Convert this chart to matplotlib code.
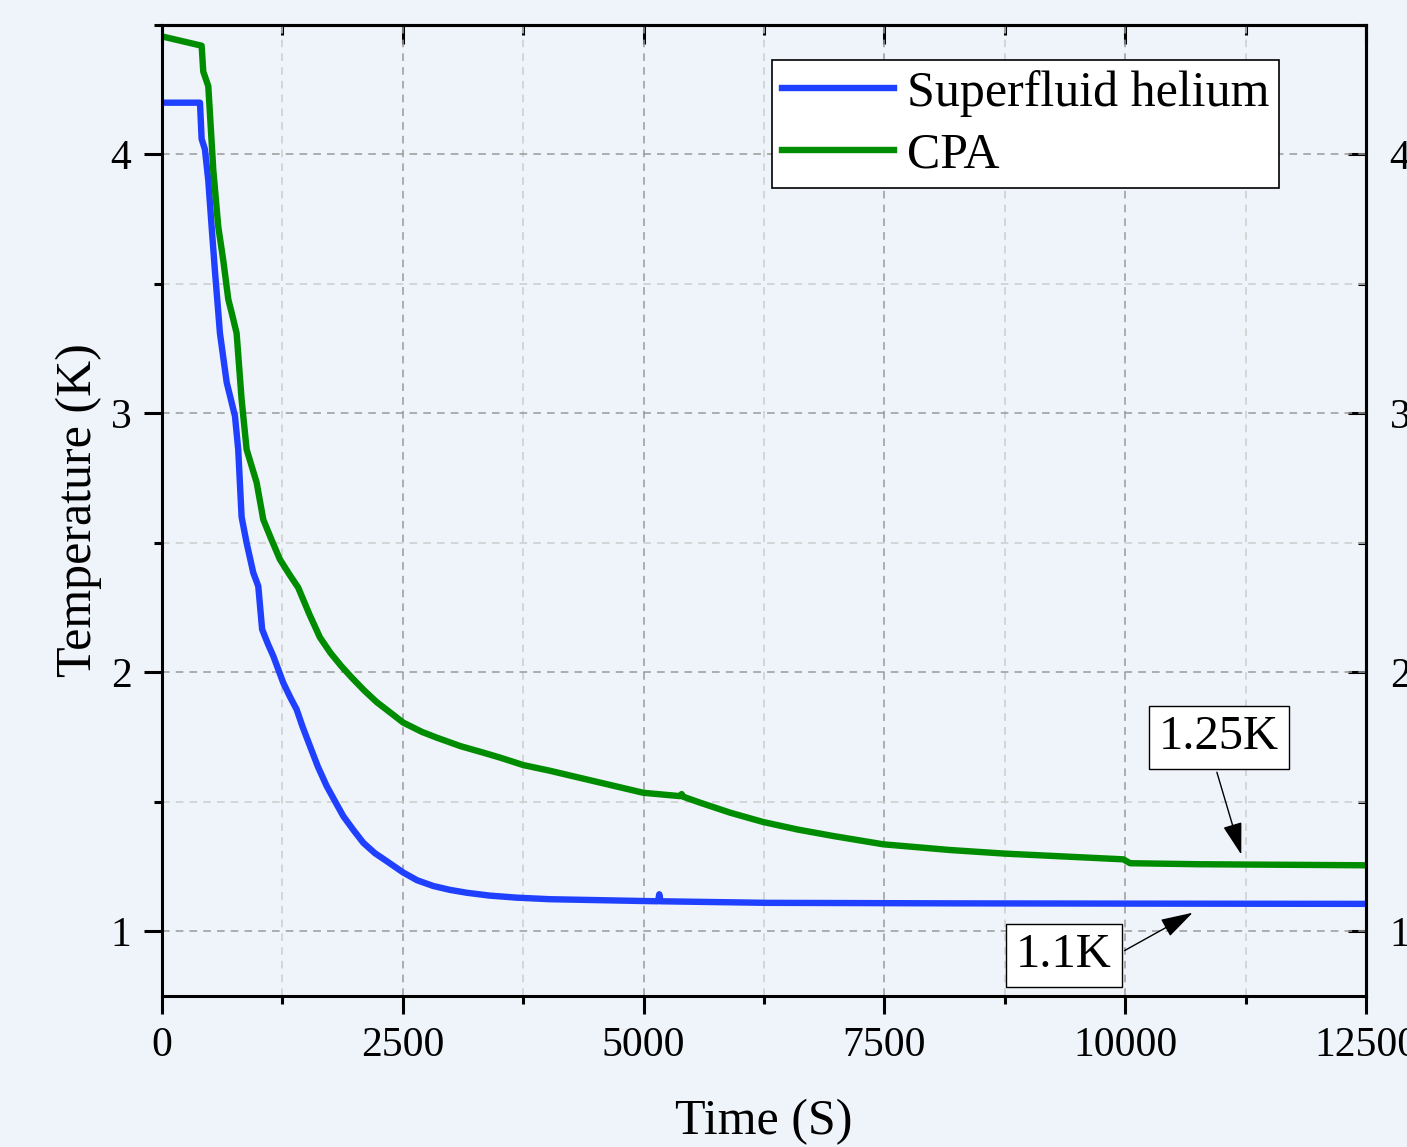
import matplotlib.pyplot as plt
from matplotlib.ticker import MultipleLocator

# time (s) and temperature (K)
helium_t = [0, 395, 412, 446, 481, 516, 550, 585, 602, 672, 758, 792, 827, 879,
            948, 1000, 1040, 1100, 1156, 1259, 1330, 1398, 1460, 1537, 1620,
            1710, 1800, 1882, 1990, 2090, 2210, 2333, 2505, 2650, 2817, 2990,
            3163, 3400, 3683, 4028, 4997, 5150, 5163, 5176, 6278, 8181,
            10000, 12500]
helium_T = [4.2, 4.2, 4.06, 4.02, 3.90, 3.72, 3.55, 3.39, 3.31, 3.12, 2.99,
            2.86, 2.60, 2.50, 2.385, 2.333, 2.166, 2.11, 2.063, 1.96, 1.905,
            1.857, 1.79, 1.715, 1.635, 1.561, 1.50, 1.445, 1.39, 1.342, 1.302,
            1.271, 1.227, 1.197, 1.175, 1.160, 1.149, 1.138, 1.130, 1.124,
            1.117, 1.116, 1.143, 1.116, 1.110, 1.108, 1.107, 1.106]

cpa_t = [0, 412, 429, 481, 498, 533, 585, 637, 689, 723, 775, 827, 879, 983,
         1052, 1140, 1225, 1320, 1415, 1530, 1640, 1750, 1860, 1970, 2100,
         2230, 2370, 2505, 2700, 2852, 3100, 3336, 3509, 3751, 4028, 4997,
         5380, 5395, 5410, 5585, 5900, 6243, 6600, 6970, 7488, 8181, 8752,
         9980, 10050, 10776, 12500]
cpa_T = [4.456, 4.42, 4.32, 4.264, 4.16, 3.94, 3.72, 3.59, 3.44, 3.39, 3.31,
         3.054, 2.861, 2.733, 2.59, 2.51, 2.436, 2.38, 2.327, 2.225, 2.135,
         2.075, 2.025, 1.98, 1.93, 1.885, 1.845, 1.806, 1.77, 1.748, 1.715,
         1.69, 1.671, 1.642, 1.62, 1.535, 1.522, 1.53, 1.52, 1.497, 1.458,
         1.422, 1.393, 1.368, 1.336, 1.314, 1.30, 1.278, 1.263, 1.259, 1.255]

plt.rcParams['font.family'] = ['Liberation Serif', 'DejaVu Serif']

bg = '#eff3fa'
fig = plt.figure(figsize=(14.07, 11.47), dpi=100, facecolor=bg)
ax = fig.add_axes([0.1151, 0.1316, 0.8558, 0.8466], facecolor=bg)

ax.plot(helium_t, helium_T, color='#2040ff', lw=4.6, label='Superfluid helium')
ax.plot(cpa_t, cpa_T, color='#008c00', lw=4.6, label='CPA')

ax.set_xlim(0, 12500)
ax.set_ylim(0.75, 4.5)
ax.xaxis.set_major_locator(MultipleLocator(2500))
ax.xaxis.set_minor_locator(MultipleLocator(1250))
ax.yaxis.set_major_locator(MultipleLocator(1))
ax.yaxis.set_minor_locator(MultipleLocator(0.5))

# grids
ax.grid(which='major', color='#999999', ls=(0, (5, 4)), lw=1.1)
ax.grid(which='minor', color='#cccccc', ls=(0, (5, 4)), lw=1.1)
ax.set_axisbelow(True)

for s in ax.spines.values():
    s.set_linewidth(2.2)
ax.tick_params(which='both', direction='out', width=2.2, labelsize=30,
               top=False, right=False)
ax.tick_params(which='major', length=13, pad=9)
ax.tick_params(which='minor', length=6)

# top and right: inward ticks, right side keeps labels
top = ax.secondary_xaxis('top')
top.xaxis.set_major_locator(MultipleLocator(2500))
top.xaxis.set_minor_locator(MultipleLocator(1250))
top.tick_params(which='both', direction='in', width=2.2, labeltop=False)
top.tick_params(which='major', length=14)
top.tick_params(which='minor', length=7)
top.spines['top'].set_linewidth(2.2)

right = ax.secondary_yaxis('right')
right.yaxis.set_major_locator(MultipleLocator(1))
right.yaxis.set_minor_locator(MultipleLocator(0.5))
right.tick_params(which='both', direction='in', width=2.2, labelsize=30)
right.tick_params(which='major', length=13, pad=17)
right.tick_params(which='minor', length=6)
right.spines['right'].set_linewidth(2.2)

ax.set_xlabel('Time (S)', fontsize=36)
ax.set_ylabel('Temperature (K)', fontsize=36)
ax.xaxis.set_label_coords(0.5, -0.106)
ax.yaxis.set_label_coords(-0.05, 0.5)

leg = ax.legend(loc='upper right', bbox_to_anchor=(0.928, 0.964), fontsize=36,
                frameon=True, fancybox=False, framealpha=1, edgecolor='black',
                handlelength=2.25, handletextpad=0.25, labelspacing=0.3,
                borderpad=0.2, borderaxespad=0)
leg.get_frame().set_linewidth(1.2)

box = dict(boxstyle='square,pad=0.2', fc='white', ec='black', lw=1)
ax.annotate('1.25K', xy=(11213, 1.286), xytext=(10974, 1.749), fontsize=35,
            ha='center', va='center', bbox=box,
            arrowprops=dict(arrowstyle='-|>,head_length=1.0,head_width=0.3',
                            color='black', lw=1, relpos=(0.45, 0),
                            mutation_scale=20))
ax.annotate('1.1K', xy=(10725, 1.077), xytext=(9365, 0.907), fontsize=35,
            ha='center', va='center', bbox=box,
            arrowprops=dict(arrowstyle='-|>,head_length=1.0,head_width=0.3',
                            color='black', lw=1, relpos=(1, 0.45),
                            mutation_scale=20))

fig.savefig('out.png', dpi=100, facecolor=bg)
